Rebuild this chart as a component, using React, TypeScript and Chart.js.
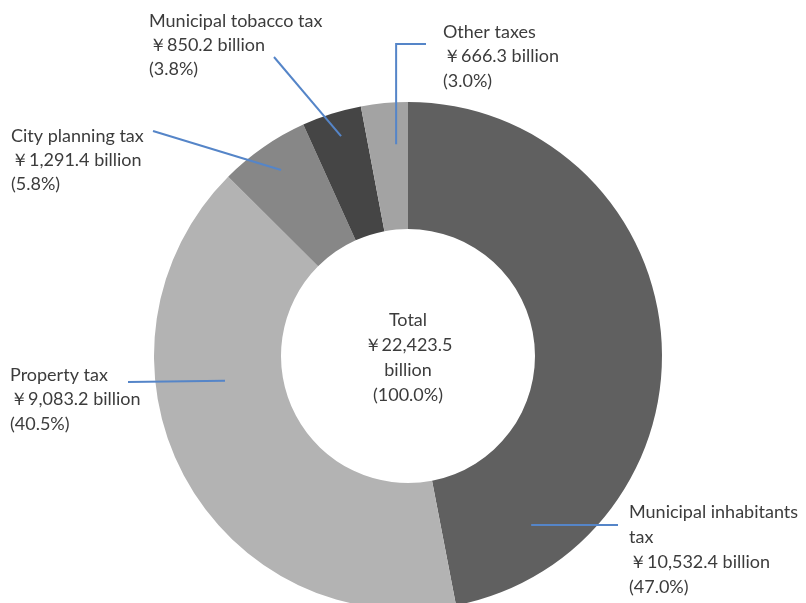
import React, { useEffect, useRef } from "react";
import { Chart, registerables } from "chart.js";

Chart.register(...registerables);

const categories = [
  "Municipal inhabitants tax",
  "Property tax",
  "City planning tax",
  "Municipal tobacco tax",
  "Other taxes",
];
const values = [10532.4, 9083.2, 1291.4, 850.2, 666.3];
const shares = ["47.0%", "40.5%", "5.8%", "3.8%", "3.0%"];
const nameLines = [
  ["Municipal inhabitants", "tax"],
  ["Property tax"],
  ["City planning tax"],
  ["Municipal tobacco tax"],
  ["Other taxes"],
];
const totalValue = 22423.5;
const totalShare = "100.0%";

const colors = ["#606060", "#b3b3b3", "#878787", "#454545", "#a3a3a3"];

// Label layout (text anchor, leader line end, and polar position of leader start inside slice)
const labelLayout = [
  { x: 629, y: 512, lh: 25, endX: 618, endY: 525, angFrac: 0.851, radFrac: 0.646, elbow: false },
  { x: 10, y: 375, lh: 24.5, endX: 128, endY: 382, angFrac: 0.639, radFrac: 0.454, elbow: false },
  { x: 11, y: 136, lh: 24, endX: 153, endY: 131, angFrac: 0.519, radFrac: 0.773, elbow: false },
  { x: 149, y: 21, lh: 24, endX: 274, endY: 57, angFrac: 0.543, radFrac: 0.81, elbow: false },
  { x: 443, y: 32, lh: 24.5, endX: 426, endY: 44, angFrac: 0.7, radFrac: 0.67, elbow: true },
];

const FONT = "18px Lato, 'Noto Sans', sans-serif";
const TEXT_COLOR = "#3c3c3c";
const LINE_COLOR = "#5585c8";

const fmt = (v: number) =>
  "￥" + v.toLocaleString("en-US", { minimumFractionDigits: 1, maximumFractionDigits: 1 }) + " billion";

const labelsPlugin = {
  id: "customLabels",
  afterDraw(chart: any) {
    const ctx = chart.ctx;
    const meta = chart.getDatasetMeta(0);
    ctx.save();
    meta.data.forEach((arc: any, i: number) => {
      const p = arc.getProps(["x", "y", "startAngle", "endAngle", "innerRadius", "outerRadius"], true);
      const L = labelLayout[i];
      const ang = p.startAngle + (p.endAngle - p.startAngle) * L.angFrac;
      const r = p.innerRadius + (p.outerRadius - p.innerRadius) * L.radFrac;
      const sx = p.x + Math.cos(ang) * r;
      const sy = p.y + Math.sin(ang) * r;
      ctx.strokeStyle = LINE_COLOR;
      ctx.lineWidth = 2;
      ctx.beginPath();
      ctx.moveTo(sx, sy);
      if (L.elbow) ctx.lineTo(sx, L.endY);
      ctx.lineTo(L.endX, L.endY);
      ctx.stroke();

      const lines = [...nameLines[i], fmt(values[i]), "(" + shares[i] + ")"];
      ctx.fillStyle = TEXT_COLOR;
      ctx.font = FONT;
      ctx.textAlign = "left";
      ctx.textBaseline = "middle";
      lines.forEach((t, k) => ctx.fillText(t, L.x, L.y + k * L.lh));
    });

    // center text
    const cx = meta.data[0].x;
    const cy = meta.data[0].y;
    const center = ["Total", "￥" + totalValue.toLocaleString("en-US", { minimumFractionDigits: 1 }), "billion", "(" + totalShare + ")"];
    ctx.textAlign = "center";
    center.forEach((t, k) => ctx.fillText(t, cx, cy - 36 + k * 25));
    ctx.restore();
  },
};

export default function App() {
  const ref = useRef<HTMLCanvasElement>(null);
  useEffect(() => {
    if (!ref.current) return;
    const chart = new Chart(ref.current, {
      type: "doughnut",
      data: {
        labels: categories,
        datasets: [
          {
            data: values,
            backgroundColor: colors,
            borderWidth: 0,
            hoverOffset: 0,
          },
        ],
      },
      options: {
        animation: false,
        responsive: false,
        cutout: "50%",
        layout: { padding: { left: 154, right: 144, top: 102, bottom: 10 } },
        plugins: { legend: { display: false }, tooltip: { enabled: false } },
      },
      plugins: [labelsPlugin],
    });
    return () => chart.destroy();
  }, []);
  return (
    <div style={{ position: "absolute", left: 0, top: 0, width: 806, height: 620, background: "#fff" }}>
      <canvas ref={ref} width={806} height={620} style={{ width: 806, height: 620 }} />
    </div>
  );
}
